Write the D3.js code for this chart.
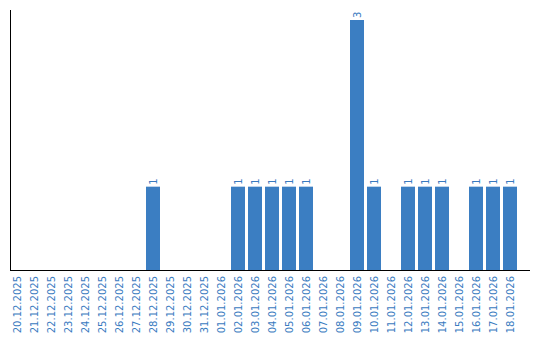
<!DOCTYPE html>
<html>
<head>
<meta charset="utf-8">
<script src="https://cdn.jsdelivr.net/npm/d3@7"></script>
<style>
body { margin: 0; background: #fff; }
svg { display: block; }
text { font-family: "DejaVu Sans", Verdana, sans-serif; }
</style>
</head>
<body>
<div id="chart"></div>
<script>
/* Data */
var dates = ["20.12.2025", "21.12.2025", "22.12.2025", "23.12.2025", "24.12.2025",
    "25.12.2025", "26.12.2025", "27.12.2025", "28.12.2025", "29.12.2025",
    "30.12.2025", "31.12.2025", "01.01.2026", "02.01.2026", "03.01.2026",
    "04.01.2026", "05.01.2026", "06.01.2026", "07.01.2026", "08.01.2026",
    "09.01.2026", "10.01.2026", "11.01.2026", "12.01.2026", "13.01.2026",
    "14.01.2026", "15.01.2026", "16.01.2026", "17.01.2026", "18.01.2026"];
var counts = [0, 0, 0, 0, 0, 0, 0, 0, 1, 0,
    0, 0, 0, 1, 1, 1, 1, 1, 0, 0,
    3, 1, 0, 1, 1, 1, 0, 1, 1, 1];

var width = 540,
    height = 340;

var barColor = "#3b7ec2",
    textColor = "#3a7bbf";

var svg = d3.select("#chart")
    .append("svg")
    .attr("width", width)
    .attr("height", height);

/* Scales */
var x = d3.scaleBand()
    .domain(dates)
    .range([10, 520])
    .padding(0);

var y = d3.scaleLinear()
    .domain([0, 3])
    .range([270, 20]);

var data = dates.map(function (d, i) { return { date: d, value: counts[i] }; });

/* Bars */
svg.selectAll(".bar")
    .data(data.filter(function (d) { return d.value > 0; }))
    .enter().append("rect")
    .attr("class", "bar")
    .attr("x", function (d) { return x(d.date); })
    .attr("width", x.bandwidth() - 3)
    .attr("y", function (d) { return y(d.value); })
    .attr("height", function (d) { return y(0) - y(d.value); })
    .attr("fill", barColor);

/* Value labels above bars, rotated */
svg.selectAll(".val")
    .data(data.filter(function (d) { return d.value > 0; }))
    .enter().append("text")
    .attr("class", "val")
    .attr("transform", function (d) {
        var cx = x(d.date) + (x.bandwidth() - 3) / 2;
        return "translate(" + (cx + 3.5) + "," + (y(d.value) - 2) + ") rotate(-90)";
    })
    .attr("font-size", "10px")
    .attr("fill", textColor)
    .text(function (d) { return d.value; });

/* X axis */
var xAxis = d3.axisBottom(x).tickSize(0).tickPadding(0);

var gx = svg.append("g")
    .attr("transform", "translate(-1.5," + 270 + ")")
    .call(xAxis);

gx.select(".domain").remove();

gx.selectAll("text")
    .attr("font-size", "10px")
    .attr("font-family", "DejaVu Sans, Verdana, sans-serif")
    .attr("fill", textColor)
    .attr("text-anchor", "end")
    .attr("dy", null)
    .attr("y", 0)
    .attr("transform", "translate(4,6) rotate(-90)");

/* Axis lines */
svg.append("line")
    .attr("x1", 10.5).attr("x2", 10.5)
    .attr("y1", 10).attr("y2", 270)
    .attr("stroke", "#000");

svg.append("line")
    .attr("x1", 10).attr("x2", 530)
    .attr("y1", 270.5).attr("y2", 270.5)
    .attr("stroke", "#000");
</script>
</body>
</html>
